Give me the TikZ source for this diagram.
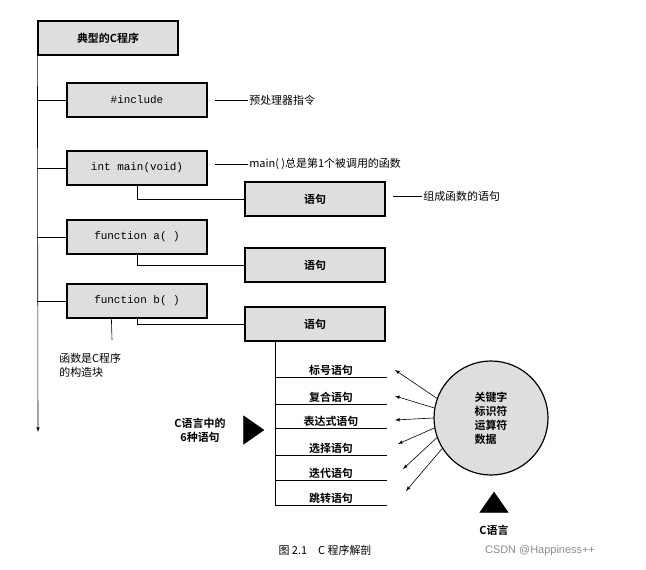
\documentclass[tikz,border=0pt]{standalone}
\usepackage{fontspec}
\newfontfamily\cjk{Noto Sans CJK SC}
\newfontfamily\cjkb{Noto Sans CJK SC Bold}
\setmonofont{Liberation Mono}
\usetikzlibrary{arrows,positioning,shapes.geometric}
\tikzset{
gbox/.style={rectangle,draw=black,line width=1.2pt,fill=black!13,minimum width=140bp,minimum height=34bp,inner sep=0pt},
code/.style={font=\ttfamily\fontsize{11}{13}\selectfont},
lbl/.style={font=\cjk\fontsize{11}{14}\selectfont,inner sep=1pt},
kind/.style={font=\cjkb\fontsize{11}{14}\selectfont,inner sep=1pt},
tri/.style={fill=black,draw=black,isosceles triangle,isosceles triangle apex angle=70,inner sep=0pt,minimum height=20bp,minimum width=24bp}
}
\begin{document}
\begin{tikzpicture}[x=1bp,y=-1bp,line width=0.6pt]
\useasboundingbox (0,0) rectangle (646,570);
\node at (108,38)[gbox,kind](title){典型的C程序};
\coordinate (end) at (38,432);
\draw[-latex] (title.south west) -- (end);
% program parts
\node at (137,100)[gbox,code](inc){\#include};
\node at (137,168)[gbox,code](main){int main(void)};
\node at (137,237)[gbox,code](fa){function a( )};
\node at (137,301)[gbox,code](fb){function b( )};
\foreach \n in {inc,main,fa,fb}
  \draw (\n.west) -- (\n.west-|title.south west);
\node at (315,199)[gbox,kind](s1){语句};
\node at (315,265)[gbox,kind](s2){语句};
\node at (315,324)[gbox,kind](s3){语句};
\draw (main.south) |- (s1.west);
\draw (fa.south) |- (s2.west);
\draw (fb.south) |- (s3.west);
% notes
\node at (248,100)[lbl,anchor=west](pre){预处理器指令};
\draw (215,100) -- (pre.west);
\node at (248,164)[lbl,anchor=west](mainn){main( )总是第1个被调用的函数};
\draw (215,164) -- (mainn.west);
\node at (422,196)[lbl,anchor=west](fn){组成函数的语句};
\draw (393,196) -- (fn.west);
\coordinate (fbd) at (112,340);
\draw (fb.south west) ++(45,0) -- (fbd);
\node at (58,365)[lbl,anchor=west,align=left](blk){函数是C程序\\的构造块};
% six statements
\coordinate (sv) at (275,342);
\coordinate (sb) at (275,505);
\draw (sv) -- (sb);
\foreach \t/\y [count=\i] in {标号语句/377,复合语句/404,表达式语句/428,选择语句/455,迭代语句/480,跳转语句/505}{
  \coordinate (l\i) at (275,\y);
  \coordinate (r\i) at (387,\y);
  \draw (l\i) -- (r\i);
  \node at (331,\y)[kind,anchor=south](k\i){\t};
}
\node at (491,418)[circle,draw=black,line width=1.2pt,fill=black!13,minimum size=114bp,kind,align=left](lang){关键字\\标识符\\运算符\\数据};
\foreach \i/\a/\x/\y in {1/160/395/370,2/170/395/396,3/180/395/420,4/190/398/444,5/200/403/469,6/212/406/491}{
  \coordinate (t\i) at (\x,\y);
  \draw[-latex] (lang.\a) -- (t\i);
}
\node at (251,430)[tri](right){};
\node at (200,430)[kind,align=center](six){C语言中的\\6种语句};
\node at (494,505)[tri,shape border rotate=90](up){};
\node at (494,530)[kind](clang){C语言};
\node at (325,550)[lbl](cap){图 2.1\quad C 程序解剖};
\node at (540,551)[font=\fontspec{Liberation Sans}\fontsize{11}{13}\selectfont,text=black!45](wm){CSDN @Happiness++};
\end{tikzpicture}
\end{document}
